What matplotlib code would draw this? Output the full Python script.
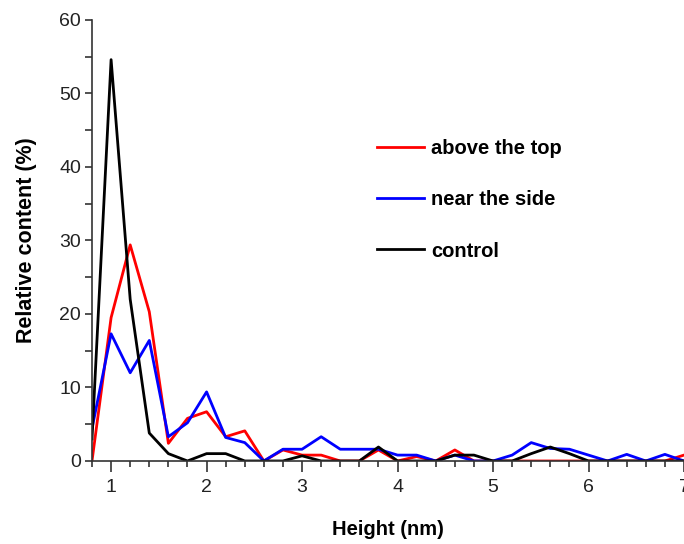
import numpy as np
import matplotlib
matplotlib.use("Agg")
import matplotlib.pyplot as plt
from matplotlib.ticker import MultipleLocator

plt.rcParams['font.family'] = ['Liberation Sans', 'DejaVu Sans']

# heights (nm), 0.2 nm bins
height = np.round(np.arange(0.8, 7.01, 0.2), 1)

# relative content (%)
above_top = [0, 19.5, 29.4, 20.3, 2.4, 5.8, 6.7, 3.3, 4.1, 0,
             1.5, 0.8, 0.8, 0, 0, 1.5, 0, 0.6, 0, 1.5,
             0, 0, 0, 0, 0, 0, 0, 0, 0, 0, 0, 0.8]
near_side = [4.4, 17.3, 12.0, 16.4, 3.3, 5.2, 9.4, 3.2, 2.5, 0,
             1.6, 1.6, 3.3, 1.6, 1.6, 1.6, 0.8, 0.8, 0, 0.8,
             0, 0, 0.8, 2.5, 1.7, 1.6, 0.8, 0, 0.9, 0, 0.9, 0]
control = [3, 54.6, 22, 3.8, 1.0, 0, 1.0, 1.0, 0, 0,
           0, 0.7, 0, 0, 0, 1.9, 0, 0, 0, 0.8,
           0.8, 0, 0, 1.0, 1.9, 1.0, 0, 0, 0, 0, 0, 0]

fig = plt.figure(figsize=(6.84, 5.44), dpi=100)
ax = fig.add_axes([0.1345, 0.1526, 0.8655, 0.8107])

ax.plot(height, above_top, color='#ff0000', lw=2.0, label='above the top')
ax.plot(height, near_side, color='#0000ff', lw=2.0, label='near the side')
ax.plot(height, control, color='black', lw=2.0, label='control')

ax.set_xlim(0.8, 7)
ax.set_ylim(0, 60)
ax.xaxis.set_major_locator(MultipleLocator(1))
ax.xaxis.set_minor_locator(MultipleLocator(0.2))
ax.yaxis.set_major_locator(MultipleLocator(10))
ax.yaxis.set_minor_locator(MultipleLocator(5))

ax.spines['top'].set_visible(False)
ax.spines['right'].set_visible(False)
for s in ('left', 'bottom'):
    ax.spines[s].set_color('#333333')
    ax.spines[s].set_linewidth(1.2)

ax.tick_params(axis='x', which='major', direction='out', length=8, width=1.2,
               labelsize=14, pad=5, color='#333333')
ax.tick_params(axis='x', which='minor', direction='out', length=4, width=1.2,
               color='#333333')
ax.tick_params(axis='y', which='both', direction='out', length=5, width=1.2,
               labelsize=14, pad=3, color='#333333')
for lab in ax.get_xticklabels() + ax.get_yticklabels():
    lab.set_color('#222222')

ax.set_xlabel('Height (nm)', fontsize=14.5, fontweight='bold', labelpad=17)
ax.set_ylabel('Relative content (%)', fontsize=15.5, fontweight='bold', labelpad=16)

leg = ax.legend(loc='upper left', bbox_to_anchor=(0.451, 0.771), frameon=False,
                handlelength=2.35, handletextpad=0.35, labelspacing=1.6,
                prop={'size': 14.5, 'weight': 'bold'})

fig.savefig('out.png', dpi=100)
